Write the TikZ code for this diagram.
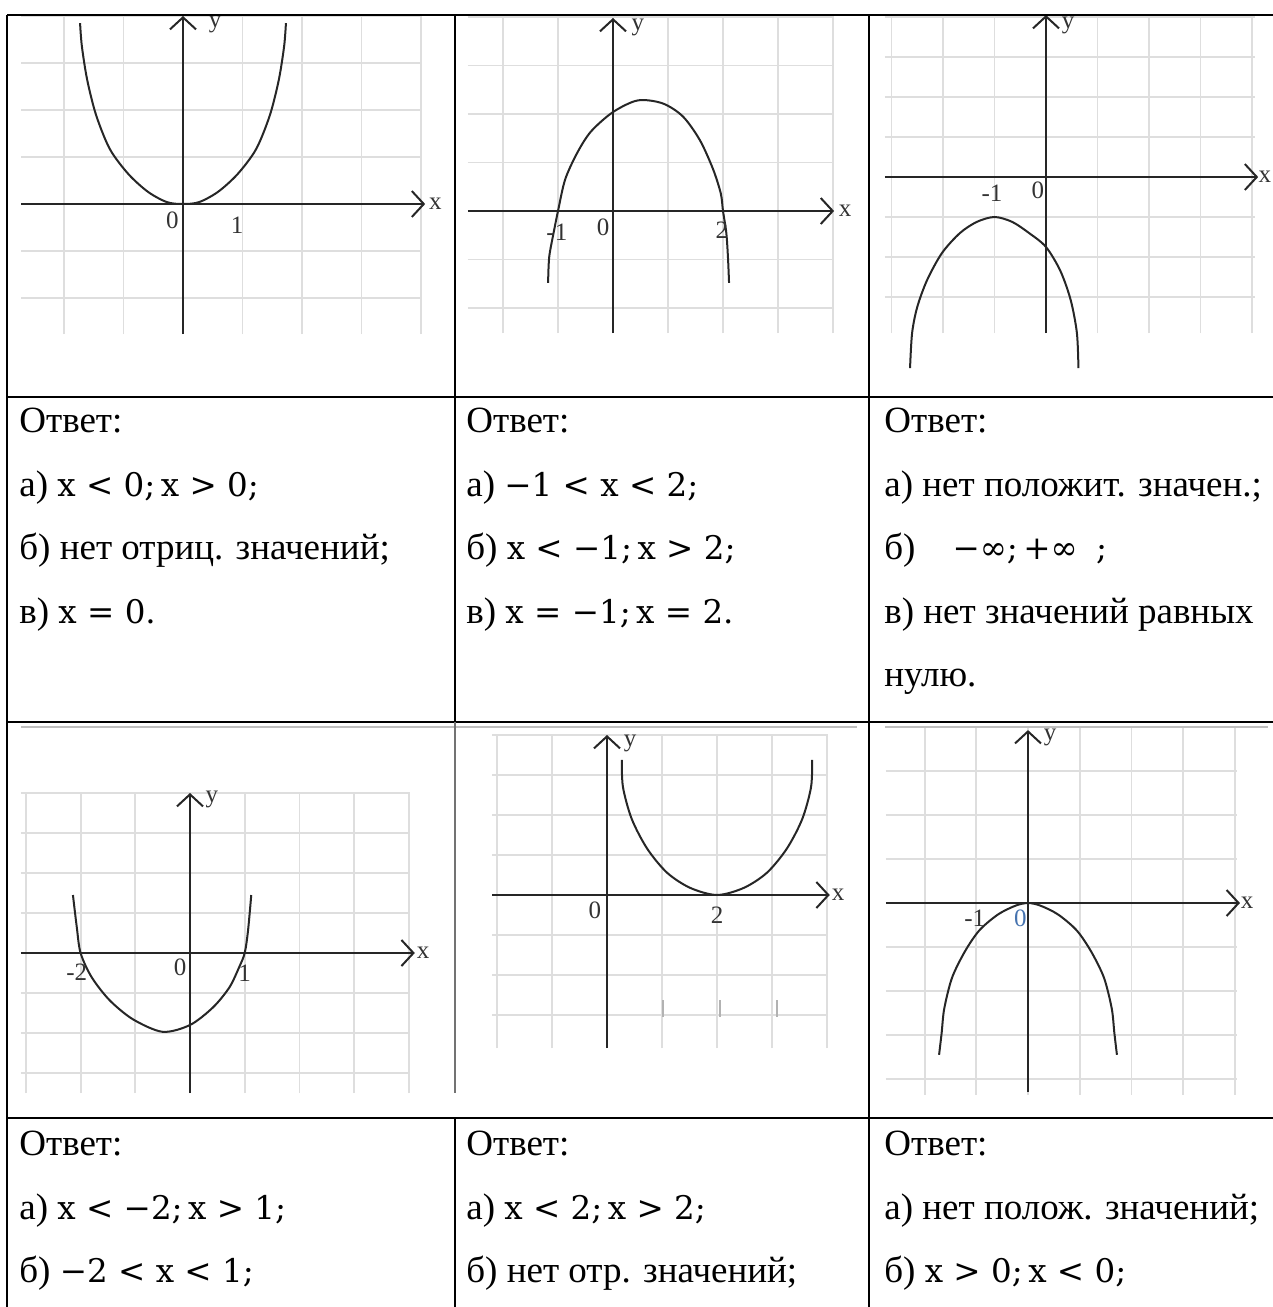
\documentclass[tikz,border=0pt]{standalone}
\usepackage{fontspec}
\setmainfont{Liberation Serif}
\newfontfamily\mathfnt{DejaVu Serif}[Scale=0.88]
\usepackage{tikz}
\usetikzlibrary{arrows.meta}
\definecolor{zeroblue}{RGB}{70,115,175}
\newcommand{\mx}[1]{{\mathfnt #1}}

\begin{document}
\begin{tikzpicture}[
x=0.5pt, y=-0.5pt,
rule/.style={line width=1.1pt, black},
gridline/.style={black!13, line width=0.9pt, step={(1,1)}},
axisline/.style={black!85, line width=1pt, -{Straight Barb[length=6pt, width=13pt]}},
curve/.style={black!85, line width=1pt},
lbl/.style={font=\fontsize{12.5}{14}\selectfont, text=black!80, inner sep=0pt},
answer/.style={anchor=north west, inner sep=0pt, align=left, font=\fontsize{18.5}{31.75}\selectfont}
]
\useasboundingbox (0,0) rectangle (1273,1307);

\begin{scope}[shift={(183,204)}, x=29.75pt, y=23.5pt]
\draw[gridline] (-2.72,-2.77) grid (4.02,4.02);
\draw[axisline] (-2.72,0) -- (4.07,0);
\draw[axisline] (0,-2.77) -- (0,4.0);
\draw[curve] plot[smooth] coordinates {(-1.73,3.85) (-1.70,3.36) (-1.61,2.64) (-1.46,1.89) (-1.23,1.17) (-0.92,0.64) (-0.59,0.26) (-0.27,0.04) (0,0) (0.27,0.04) (0.59,0.26) (0.92,0.64) (1.23,1.17) (1.46,1.89) (1.61,2.64) (1.70,3.36) (1.73,3.85)};
\node[lbl] (g1x) at (4.24,0) {x};
\node[lbl] (g1y) at (0.54,3.81) {y};
\node[lbl] (g1o) at (-0.18,-0.34) {0};
\node[lbl] (g1a) at (0.91,-0.45) {1};
\end{scope}

\begin{scope}[shift={(613,211)}, x=27.5pt, y=24.25pt]
\draw[gridline] (-2.64,-2.52) grid (4.02,4.04);
\draw[axisline] (-2.64,0) -- (4.02,0);
\draw[axisline] (0,-2.52) -- (0,3.98);
\draw[curve] plot[smooth] coordinates {(-1.18,-1.48) (-1.16,-0.95) (-1.08,-0.45) (-1,0) (-0.87,0.65) (-0.65,1.2) (-0.4,1.64) (0,2.04) (0.45,2.28) (0.9,2.22) (1.27,1.95) (1.58,1.46) (1.82,0.86) (1.96,0.36) (2,0) (2.06,-0.45) (2.09,-0.95) (2.11,-1.48)};
\node[lbl] (g2x) at (4.22,0) {x};
\node[lbl] (g2y) at (0.45,3.79) {y};
\node[lbl] (g2m) at (-1.02,-0.43) {-1};
\node[lbl] (g2o) at (-0.18,-0.33) {0};
\node[lbl] (g2b) at (1.98,-0.39) {2};
\end{scope}

\begin{scope}[shift={(1046,177)}, x=25.75pt, y=20pt]
\draw[gridline] (-3.13,-3.9) grid (4.06,4.05);
\draw[axisline] (-3.13,0) -- (4.12,0);
\draw[axisline] (0,-3.9) -- (0,4.05);
\draw[curve] plot[smooth] coordinates {(-2.64,-4.78) (-2.6,-3.9) (-2.5,-3.25) (-2.31,-2.58) (-2.02,-1.9) (-1.67,-1.4) (-1.34,-1.12) (-1,-1) (-0.66,-1.12) (-0.33,-1.4) (0,-1.75) (0.28,-2.35) (0.48,-3.08) (0.6,-3.9) (0.63,-4.78)};
\node[lbl] (g3x) at (4.25,0) {x};
\node[lbl] (g3y) at (0.43,3.8) {y};
\node[lbl] (g3m) at (-1.05,-0.4) {-1};
\node[lbl] (g3o) at (-0.16,-0.33) {0};
\end{scope}

\begin{scope}[shift={(190,953)}, x=27.35pt, y=20pt]
\draw[gridline] (-3.09,-3.5) grid (4.02,4.02);
\draw[axisline] (-3.09,0) -- (4.11,0);
\draw[axisline] (0,-3.5) -- (0,4.0);
\draw[curve] plot[smooth] coordinates {(-2.14,1.45) (-2.07,0.65) (-2,0) (-1.8,-0.6) (-1.47,-1.18) (-1.04,-1.66) (-0.5,-1.97) (0,-1.8) (0.42,-1.36) (0.72,-0.86) (0.9,-0.35) (1,0) (1.06,0.55) (1.12,1.45)};
\node[lbl] (g4x) at (4.26,0) {x};
\node[lbl] (g4y) at (0.4,3.83) {y};
\node[lbl] (g4m) at (-2.07,-0.48) {-2};
\node[lbl] (g4o) at (-0.18,-0.35) {0};
\node[lbl] (g4a) at (1.0,-0.5) {1};
\end{scope}

\begin{scope}[shift={(607,895)}, x=27.5pt, y=20pt]
\draw[gridline] (-2.09,-3.83) grid (4.02,4.02);
\foreach \t in {1.02,2.05,3.09}
  \draw[black!30, line width=0.9pt] (\t,-2.63) -- (\t,-3.05);
\draw[axisline] (-2.09,0) -- (4.05,0);
\draw[axisline] (0,-3.83) -- (0,4.0);
\draw[curve] plot[smooth] coordinates {(0.27,3.38) (0.29,2.7) (0.45,1.9) (0.73,1.16) (1.09,0.56) (1.51,0.18) (2,0) (2.49,0.18) (2.91,0.56) (3.27,1.16) (3.55,1.9) (3.71,2.7) (3.73,3.38)};
\node[lbl] (g5x) at (4.2,0) {x};
\node[lbl] (g5y) at (0.42,3.8) {y};
\node[lbl] (g5o) at (-0.22,-0.38) {0};
\node[lbl] (g5b) at (2.0,-0.5) {2};
\end{scope}

\begin{scope}[shift={(1028,903)}, x=25.85pt, y=22pt]
\draw[gridline] (-2.75,-4.36) grid (4.04,4.02);
\draw[axisline] (-2.75,0) -- (4.1,0);
\draw[axisline] (0,-4.3) -- (0,3.93);
\draw[curve] plot[smooth] coordinates {(-1.72,-3.45) (-1.67,-2.95) (-1.62,-2.4) (-1.47,-1.7) (-1.22,-1.1) (-0.94,-0.62) (-0.58,-0.26) (-0.24,-0.06) (0,0) (0.24,-0.06) (0.58,-0.26) (0.94,-0.62) (1.22,-1.1) (1.47,-1.7) (1.62,-2.4) (1.67,-2.95) (1.72,-3.45)};
\node[lbl] (g6x) at (4.24,0) {x};
\node[lbl] (g6y) at (0.43,3.77) {y};
\node[lbl] (g6m) at (-1.03,-0.34) {-1};
\node[lbl, text=zeroblue] (g6o) at (-0.15,-0.34) {0};
\end{scope}

\draw[black!25, line width=1pt] (21,727) -- (857,727) (885,727) -- (1268,727);
\draw[rule] (7,15) -- (1273,15);
\draw[rule] (7,15) -- (7,1307);
\draw[rule] (7,397) -- (1273,397);
\draw[rule] (7,722) -- (1273,722);
\draw[rule] (7,1118) -- (1273,1118);
\draw[rule] (455,15) -- (455,722);
\draw[rule] (455,1118) -- (455,1307);
\draw[black!55, line width=1.1pt] (455,722) -- (455,1093);
\draw[rule] (869,15) -- (869,1307);

\node[answer] (ans1) at (19,408) {Ответ:\\а) \mx{x < 0;\,x > 0;}\\б) нет отриц. значений;\\в) \mx{x = 0.}};
\node[answer] (ans2) at (466,408) {Ответ:\\а) \mx{−1 < x < 2;}\\б) \mx{x < −1;\,x > 2;}\\в) \mx{x = −1;\,x = 2.}};
\node[answer] (ans3) at (884,408) {Ответ:\\а) нет положит. значен.;\\б)\hspace{1em}\mx{−∞;\,+∞}\hspace{0.5em}\mx{;}\\в) нет значений равных\\нулю.};
\node[answer] (ans4) at (19,1131) {Ответ:\\а) \mx{x < −2;\,x > 1;}\\б) \mx{−2 < x < 1;}};
\node[answer] (ans5) at (466,1131) {Ответ:\\а) \mx{x < 2;\,x > 2;}\\б) нет отр. значений;};
\node[answer] (ans6) at (884,1131) {Ответ:\\а) нет полож. значений;\\б) \mx{x > 0;\,x < 0;}};
\end{tikzpicture}
\end{document}
